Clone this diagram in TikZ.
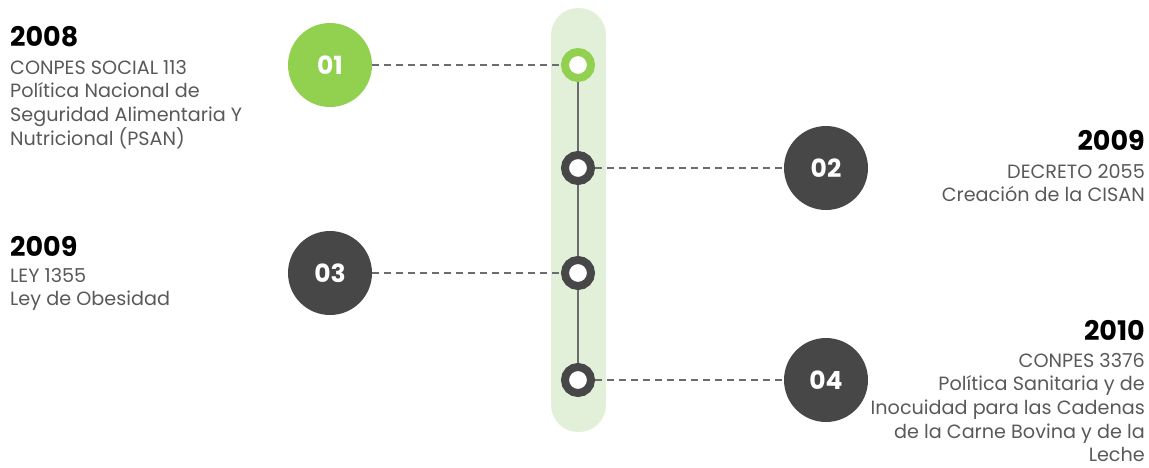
\documentclass[tikz,border=0pt]{standalone}
\usepackage{fontspec}
\setmainfont{Poppins}
\definecolor{lgreen}{HTML}{E2F0D9}
\definecolor{mgreen}{HTML}{92D050}
\definecolor{dgray}{HTML}{474747}
\definecolor{tgray}{HTML}{595959}
\begin{document}
\begin{tikzpicture}[x=1pt,y=-1pt,
  big/.style={circle,minimum size=84pt,inner sep=0pt,text=white,font=\fontsize{25}{25}\selectfont\bfseries},
  ring/.style={circle,draw=#1,line width=8pt,fill=white,minimum size=26pt,inner sep=0pt},
  conn/.style={draw=gray!85!black,dashed,dash pattern=on 7pt off 5pt,line width=1.5pt},
  year/.style={font=\fontsize{27}{27}\selectfont\bfseries,text=black,inner sep=0pt},
  body/.style={font=\fontsize{19.2}{23.6}\selectfont,text=tgray,inner sep=0pt,align=#1},
]
\useasboundingbox (0,0) rectangle (1149,467);
\fill[lgreen,rounded corners=27pt] (551,8) rectangle (606,432);
\coordinate (top) at (578,65);
\coordinate (bot) at (578,380);
\draw[dgray!80,line width=2pt] (top) -- (bot);
\node[ring=mgreen] (r1) at (578,65) {};
\node[ring=dgray] (r2) at (578,168) {};
\node[ring=dgray] (r3) at (578,273) {};
\node[ring=dgray] (r4) at (578,380) {};
\node[big,fill=mgreen] (b1) at (330,65) {01};
\node[big,fill=dgray] (b2) at (826,168) {02};
\node[big,fill=dgray] (b3) at (330,273) {03};
\node[big,fill=dgray] (b4) at (826,380) {04};
\draw[conn] (b1) -- (r1);
\draw[conn] (r2) -- (b2);
\draw[conn] (b3) -- (r3);
\draw[conn] (r4) -- (b4);
\node[year,anchor=west] (y1) at (10,37) {2008};
\node[body=left,anchor=north west] (t1) at (10,60) {CONPES SOCIAL 113\\Política Nacional de\\Seguridad Alimentaria Y\\Nutricional (PSAN)};
\node[year,anchor=west] (y3) at (10,246) {2009};
\node[body=left,anchor=north west] (t3) at (10,268) {LEY 1355\\Ley de Obesidad};
\node[year,anchor=east] (y2) at (1145,140) {2009};
\node[body=right,anchor=north east] (t2) at (1145,164) {DECRETO 2055\\Creación de la CISAN};
\node[year,anchor=east] (y4) at (1145,330) {2010};
\node[body=right,anchor=north east] (t4) at (1145,353) {CONPES 3376\\Política Sanitaria y de\\Inocuidad para las Cadenas\\de la Carne Bovina  y de la\\Leche};
\end{tikzpicture}
\end{document}
